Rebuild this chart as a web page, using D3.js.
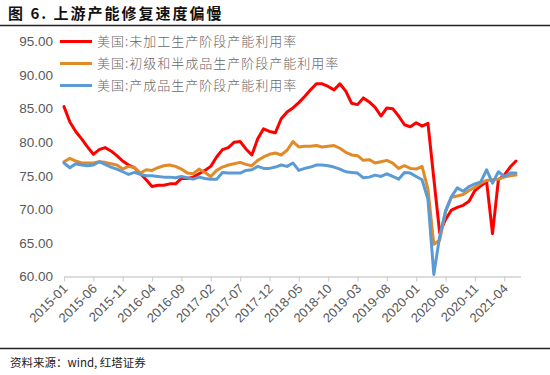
<!DOCTYPE html>
<html><head><meta charset="utf-8">
<script src="https://cdn.jsdelivr.net/npm/d3@7"></script>
<style>
html,body{margin:0;padding:0;background:#fff;}
svg{display:block;}
</style>
</head><body>
<svg id="c" width="550" height="375"></svg>
<script>
const months = ["2015-01","2015-02","2015-03","2015-04","2015-05","2015-06","2015-07","2015-08","2015-09","2015-10","2015-11","2015-12",
"2016-01","2016-02","2016-03","2016-04","2016-05","2016-06","2016-07","2016-08","2016-09","2016-10","2016-11","2016-12",
"2017-01","2017-02","2017-03","2017-04","2017-05","2017-06","2017-07","2017-08","2017-09","2017-10","2017-11","2017-12",
"2018-01","2018-02","2018-03","2018-04","2018-05","2018-06","2018-07","2018-08","2018-09","2018-10","2018-11","2018-12",
"2019-01","2019-02","2019-03","2019-04","2019-05","2019-06","2019-07","2019-08","2019-09","2019-10","2019-11","2019-12",
"2020-01","2020-02","2020-03","2020-04","2020-05","2020-06","2020-07","2020-08","2020-09","2020-10","2020-11","2020-12",
"2021-01","2021-02","2021-03","2021-04","2021-05","2021-06"];

const crude = [85.3,83.0,81.6,80.5,79.3,78.2,78.9,79.2,78.7,78.0,77.2,76.6,
76.2,75.3,74.4,73.4,73.6,73.6,73.8,73.8,74.6,74.6,74.8,75.3,
75.8,76.4,77.8,78.9,79.2,80.0,80.1,79.0,78.1,80.5,82.0,81.6,
81.4,83.5,84.5,85.1,85.9,86.8,87.8,88.7,88.7,88.3,87.8,88.7,
87.6,85.8,85.6,86.6,86.0,85.2,83.9,85.1,85.0,83.9,82.6,82.3,
82.9,82.4,82.8,74.6,66.5,68.5,69.9,70.3,70.6,71.2,72.8,73.5,
74.1,66.4,74.4,75.1,76.3,77.2];

const primary = [77.1,77.6,77.2,76.9,76.9,76.9,77.1,77.0,76.8,76.6,76.0,76.4,
76.2,75.4,75.9,75.8,76.2,76.5,76.6,76.4,76.0,75.4,75.3,76.0,
75.5,74.9,75.8,76.3,76.6,76.8,77.0,76.7,76.5,77.3,77.8,78.2,
78.4,78.1,78.8,80.1,79.3,79.4,79.4,79.5,79.3,79.4,79.5,79.1,
78.5,78.1,78.0,77.3,77.4,76.9,77.1,77.3,76.9,76.1,76.5,76.1,
76.0,76.4,73.0,64.8,65.4,69.6,71.8,72.0,72.2,72.8,73.3,73.9,
74.3,74.4,74.5,74.8,75.0,75.1];

const finished = [76.9,76.2,76.8,76.6,76.5,76.6,77.1,76.7,76.3,76.0,75.6,75.2,
75.5,75.2,75.0,75.0,74.9,74.8,74.8,74.7,74.9,74.7,74.5,74.8,
74.6,74.5,74.5,75.5,75.4,75.4,75.4,75.8,75.9,76.4,76.1,76.1,
76.3,76.6,76.4,76.9,75.8,76.1,76.3,76.6,76.6,76.5,76.3,76.0,
75.6,75.5,75.4,74.7,74.8,75.1,74.9,75.3,74.9,74.5,75.5,75.4,
74.9,74.4,71.5,60.3,66.0,69.8,71.9,73.2,72.7,73.4,73.8,74.1,
75.9,73.9,75.6,74.9,75.4,75.4];

const tickLabels = ["2015-01","2015-06","2015-11","2016-04","2016-09","2017-02","2017-07","2017-12",
"2018-05","2018-10","2019-03","2019-08","2020-01","2020-06","2020-11","2021-04"];
const yTicks = [60,65,70,75,80,85,90,95];

const seriesNames = ["美国:未加工生产阶段产能利用率","美国:初级和半成品生产阶段产能利用率","美国:产成品生产阶段产能利用率"];
const seriesColors = ["#FF0000","#E08A28","#5B9BD5"];
const seriesData = [crude, primary, finished];

const svg = d3.select("#c");
const W = 550;

// title
svg.append("text").attr("x", 8).attr("y", 19)
  .attr("font-family", "'Noto Sans CJK SC', sans-serif").attr("font-weight", "bold")
  .attr("font-size", 15).attr("letter-spacing", 2).attr("fill", "#111")
  .text("图 6. 上游产能修复速度偏慢");
svg.append("line").attr("x1", 0).attr("x2", W).attr("y1", 25.5).attr("y2", 25.5)
  .attr("stroke", "#222").attr("stroke-width", 1.3);
svg.append("line").attr("x1", 0).attr("x2", W).attr("y1", 348.5).attr("y2", 348.5)
  .attr("stroke", "#222").attr("stroke-width", 1.3);
svg.append("text").attr("x", 10).attr("y", 367)
  .attr("font-family", "'Noto Sans CJK SC', sans-serif")
  .attr("font-size", 11.5).attr("fill", "#222")
  .text("资料来源：wind, 红塔证券");

const x = d3.scalePoint().domain(months).range([64, 516]).padding(0);
const y = d3.scaleLinear().domain([60, 95]).range([276.5, 41.5]);

// y axis
const ya = svg.append("g").attr("transform", "translate(64,0)")
  .call(d3.axisLeft(y).tickValues(yTicks).tickFormat(d3.format(".2f")).tickSize(0).tickPadding(11));
ya.select(".domain").remove();
ya.selectAll("text").attr("font-family", "'Liberation Sans', Arial, sans-serif")
  .attr("font-size", 13.5).attr("fill", "#595959");

// x axis
const xa = svg.append("g").attr("transform", "translate(0,276.5)")
  .call(d3.axisBottom(x).tickValues(tickLabels).tickSize(5).tickSizeOuter(0));
xa.select(".domain").attr("stroke", "#d0d0d0").attr("stroke-width", 1.3)
  .attr("d", `M64,0.5H521`);
xa.selectAll(".tick line").attr("stroke", "#d0d0d0").attr("stroke-width", 1.2);
xa.selectAll("text").attr("font-family", "'Liberation Sans', Arial, sans-serif")
  .attr("font-size", 13).attr("fill", "#595959")
  .attr("text-anchor", "end").attr("dy", 0)
  .attr("transform", "translate(4,13) rotate(-45)")
  .attr("y", 0).attr("x", 0);

// lines
const line = d3.line().x((d, i) => x(months[i])).y(d => y(d));
seriesData.forEach((arr, k) => {
  svg.append("path").datum(arr).attr("d", line)
    .attr("fill", "none").attr("stroke", seriesColors[k]).attr("stroke-width", 3)
    .attr("stroke-linejoin", "round").attr("stroke-linecap", "round");
});

// legend
const lg = svg.append("g");
seriesNames.forEach((n, k) => {
  const yy = 41.5 + k * 22;
  lg.append("line").attr("x1", 60).attr("x2", 92).attr("y1", yy).attr("y2", yy)
    .attr("stroke", seriesColors[k]).attr("stroke-width", 3);
  lg.append("text").attr("x", 97).attr("y", yy + 4.5)
    .attr("font-family", "'Noto Sans CJK SC', sans-serif").attr("font-weight", 300)
    .attr("font-size", 13).attr("letter-spacing", 1.0).attr("fill", "#666")
    .text(n);
});
</script>
</body></html>
